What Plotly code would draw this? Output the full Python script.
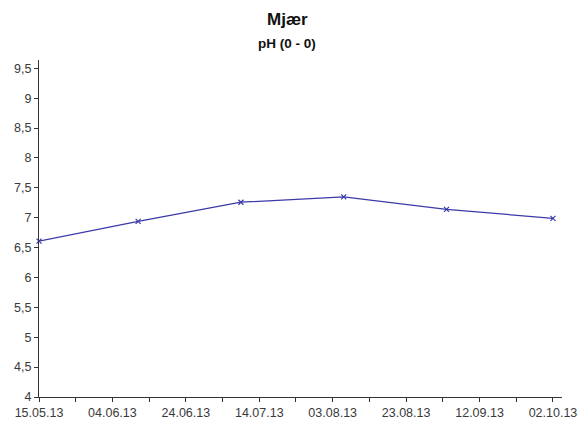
import plotly.graph_objects as go

# Sampling dates and pH values for Mjær
dates = ["2013-05-15", "2013-06-11", "2013-07-09", "2013-08-06", "2013-09-03", "2013-10-02"]
ph = [6.61, 6.94, 7.26, 7.35, 7.14, 6.99]

y_ticks = [4, 4.5, 5, 5.5, 6, 6.5, 7, 7.5, 8, 8.5, 9, 9.5]
y_tick_text = ["4", "4,5", "5", "5,5", "6", "6,5", "7", "7,5", "8", "8,5", "9", "9,5"]

W, H = 583, 424
L, R, T, B = 39, 21, 60, 27

fig = go.Figure()
fig.add_trace(go.Scatter(
    x=dates, y=ph, mode="lines+markers",
    line=dict(color="#3a3aa8", width=1.2),
    marker=dict(symbol="x-thin", size=5, color="#3a3aa8",
                line=dict(color="#3a3aa8", width=1.2)),
    showlegend=False, cliponaxis=False,
))

axis_font = dict(family="Liberation Sans, Arial, sans-serif", size=12.5, color="#3a3a3a")

fig.update_layout(
    width=W, height=H,
    margin=dict(l=L, r=R, t=T, b=B),
    paper_bgcolor="white", plot_bgcolor="white",
    separators=", ",
    xaxis=dict(
        type="date", automargin=False,
        range=["2013-05-15", "2013-10-04 11:00"],
        tick0="2013-05-15", dtick=20 * 86400000,
        tickformat="%d.%m.%y",
        ticks="outside", ticklen=4, tickcolor="#333333", tickwidth=1,
        minor=dict(dtick=10 * 86400000, tick0="2013-05-15", ticks="outside",
                   ticklen=4, tickcolor="#333333", tickwidth=1, showgrid=False),
        showline=True, linecolor="#333333", linewidth=1,
        showgrid=False, zeroline=False,
        tickfont=axis_font,
    ),
    yaxis=dict(
        automargin=False,
        range=[4, 9.64],
        tickvals=y_ticks, ticktext=y_tick_text,
        ticks="outside", ticklen=4, tickcolor="#333333", tickwidth=1,
        showline=True, linecolor="#333333", linewidth=1,
        showgrid=False, zeroline=False,
        tickfont=axis_font,
    ),
    annotations=[
        dict(text="<b>Mjær</b>", x=287 / W, y=1 - 20 / H, xref="paper", yref="paper",
             xanchor="center", yanchor="middle", showarrow=False,
             font=dict(family="Liberation Sans, Arial, sans-serif", size=17, color="#111111")),
        dict(text="<b>pH (0 - 0)</b>", x=287 / W, y=1 - 44 / H, xref="paper", yref="paper",
             xanchor="center", yanchor="middle", showarrow=False,
             font=dict(family="Liberation Sans, Arial, sans-serif", size=13.5, color="#111111")),
    ],
)

# annotations are placed in paper coords relative to the plot area; convert from figure pixels
for a in fig.layout.annotations:
    px_x = a.x * W
    px_y = (1 - a.y) * H
    a.x = (px_x - L) / (W - L - R)
    a.y = 1 - (px_y - T) / (H - T - B)

fig.write_html("out.html")
